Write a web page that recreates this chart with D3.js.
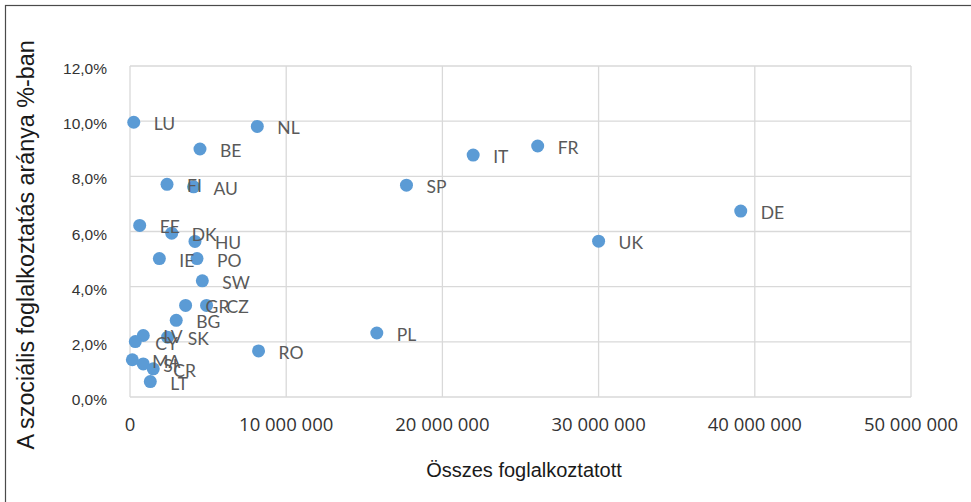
<!DOCTYPE html>
<html>
<head>
<meta charset="utf-8">
<script src="https://cdn.jsdelivr.net/npm/d3@7/dist/d3.min.js"></script>
<style>
  html, body { margin: 0; padding: 0; background: #ffffff; }
  svg { display: block; }
</style>
</head>
<body>
<svg id="chart" width="971" height="502"></svg>
<script>
// Country codes, total employed persons and share of social employment (%)
const countries = ["LU","NL","BE","FI","AU","EE","DK","HU","IE","PO","SW","GR","CZ","BG",
                   "LV","SK","CY","MA","SI","CR","LT","RO","PL","SP","IT","FR","UK","DE"];
const employed = [240000, 8150000, 4480000, 2370000, 4070000, 620000, 2670000, 4160000,
                  1880000, 4290000, 4630000, 3560000, 4900000, 2960000,
                  850000, 2410000, 340000, 150000, 850000, 1490000, 1300000,
                  8230000, 15800000, 17700000, 21970000, 26100000, 30000000, 39100000];
const socialShare = [9.96, 9.81, 8.99, 7.71, 7.62, 6.22, 5.94, 5.64,
                     5.02, 5.02, 4.21, 3.32, 3.32, 2.78,
                     2.23, 2.17, 2.01, 1.35, 1.20, 1.02, 0.56,
                     1.67, 2.32, 7.68, 8.77, 9.10, 5.65, 6.74];

const xTicks = [0, 10000000, 20000000, 30000000, 40000000, 50000000];
const yTicks = [0, 2, 4, 6, 8, 10, 12];

const xTitle = "Összes foglalkoztatott";
const yTitle = "A szociális foglalkoztatás aránya %-ban";

const data = countries.map((c, i) => ({ code: c, x: employed[i], y: socialShare[i] }));

const svg = d3.select("#chart");
const W = 971, H = 502;
const plot = { left: 130, right: 911, top: 66, bottom: 397 };

const x = d3.scaleLinear().domain([0, 50000000]).range([plot.left, plot.right]);
const y = d3.scaleLinear().domain([0, 12]).range([plot.bottom, plot.top]);

const huLocale = d3.formatLocale({ decimal: ",", thousands: " ", grouping: [3], currency: ["", ""] });
const fmtX = huLocale.format(",d");
const fmtY = v => huLocale.format(".1f")(v) + "%";

// Outer chart frame (right and bottom edges run past the canvas)
svg.append("rect")
  .attr("x", 5.5).attr("y", 5.5)
  .attr("width", W + 20).attr("height", H + 20)
  .attr("fill", "none").attr("stroke", "#4a4a4a").attr("stroke-width", 1.2);

// Gridlines
const grid = svg.append("g").attr("stroke", "#d9d9d9").attr("stroke-width", 1.3);
grid.selectAll("line.h").data(yTicks).join("line")
  .attr("class", "h")
  .attr("x1", plot.left).attr("x2", plot.right)
  .attr("y1", d => y(d)).attr("y2", d => y(d));
grid.selectAll("line.v").data(xTicks).join("line")
  .attr("class", "v")
  .attr("y1", plot.top).attr("y2", plot.bottom)
  .attr("x1", d => x(d)).attr("x2", d => x(d));

// Y axis tick labels
svg.append("g").selectAll("text").data(yTicks).join("text")
  .attr("x", 107)
  .attr("y", d => y(d) + 8)
  .attr("text-anchor", "end")
  .attr("font-family", "'Liberation Sans', Arial, sans-serif")
  .attr("font-size", 15.5)
  .attr("fill", "#333333")
  .text(fmtY);

// X axis tick labels
svg.append("g").selectAll("text").data(xTicks).join("text")
  .attr("x", d => x(d))
  .attr("y", 431)
  .attr("text-anchor", "middle")
  .attr("font-family", "'Open Sans', sans-serif")
  .attr("font-size", 18.5)
  .attr("fill", "#333333")
  .text(fmtX);

// Axis titles
svg.append("text")
  .attr("x", 524)
  .attr("y", 477)
  .attr("text-anchor", "middle")
  .attr("font-family", "'Liberation Sans', Arial, sans-serif")
  .attr("font-size", 20)
  .attr("fill", "#1a1a1a")
  .text(xTitle);

svg.append("text")
  .attr("transform", "translate(34,245) rotate(-90)")
  .attr("text-anchor", "middle")
  .attr("font-family", "'Liberation Sans', Arial, sans-serif")
  .attr("font-size", 23.3)
  .attr("fill", "#1a1a1a")
  .text(yTitle);

// Markers
svg.append("g").selectAll("circle").data(data).join("circle")
  .attr("cx", d => x(d.x))
  .attr("cy", d => y(d.y))
  .attr("r", 6.5)
  .attr("fill", "#5b9bd5");

// Data labels, drawn after the markers
svg.append("g").selectAll("text").data(data).join("text")
  .attr("x", d => x(d.x) + 20)
  .attr("y", d => y(d.y) + 8)
  .attr("font-family", "Lato, 'Open Sans', sans-serif")
  .attr("font-size", 17.5)
  .attr("fill", "#595959")
  .text(d => d.code);
</script>
</body>
</html>
